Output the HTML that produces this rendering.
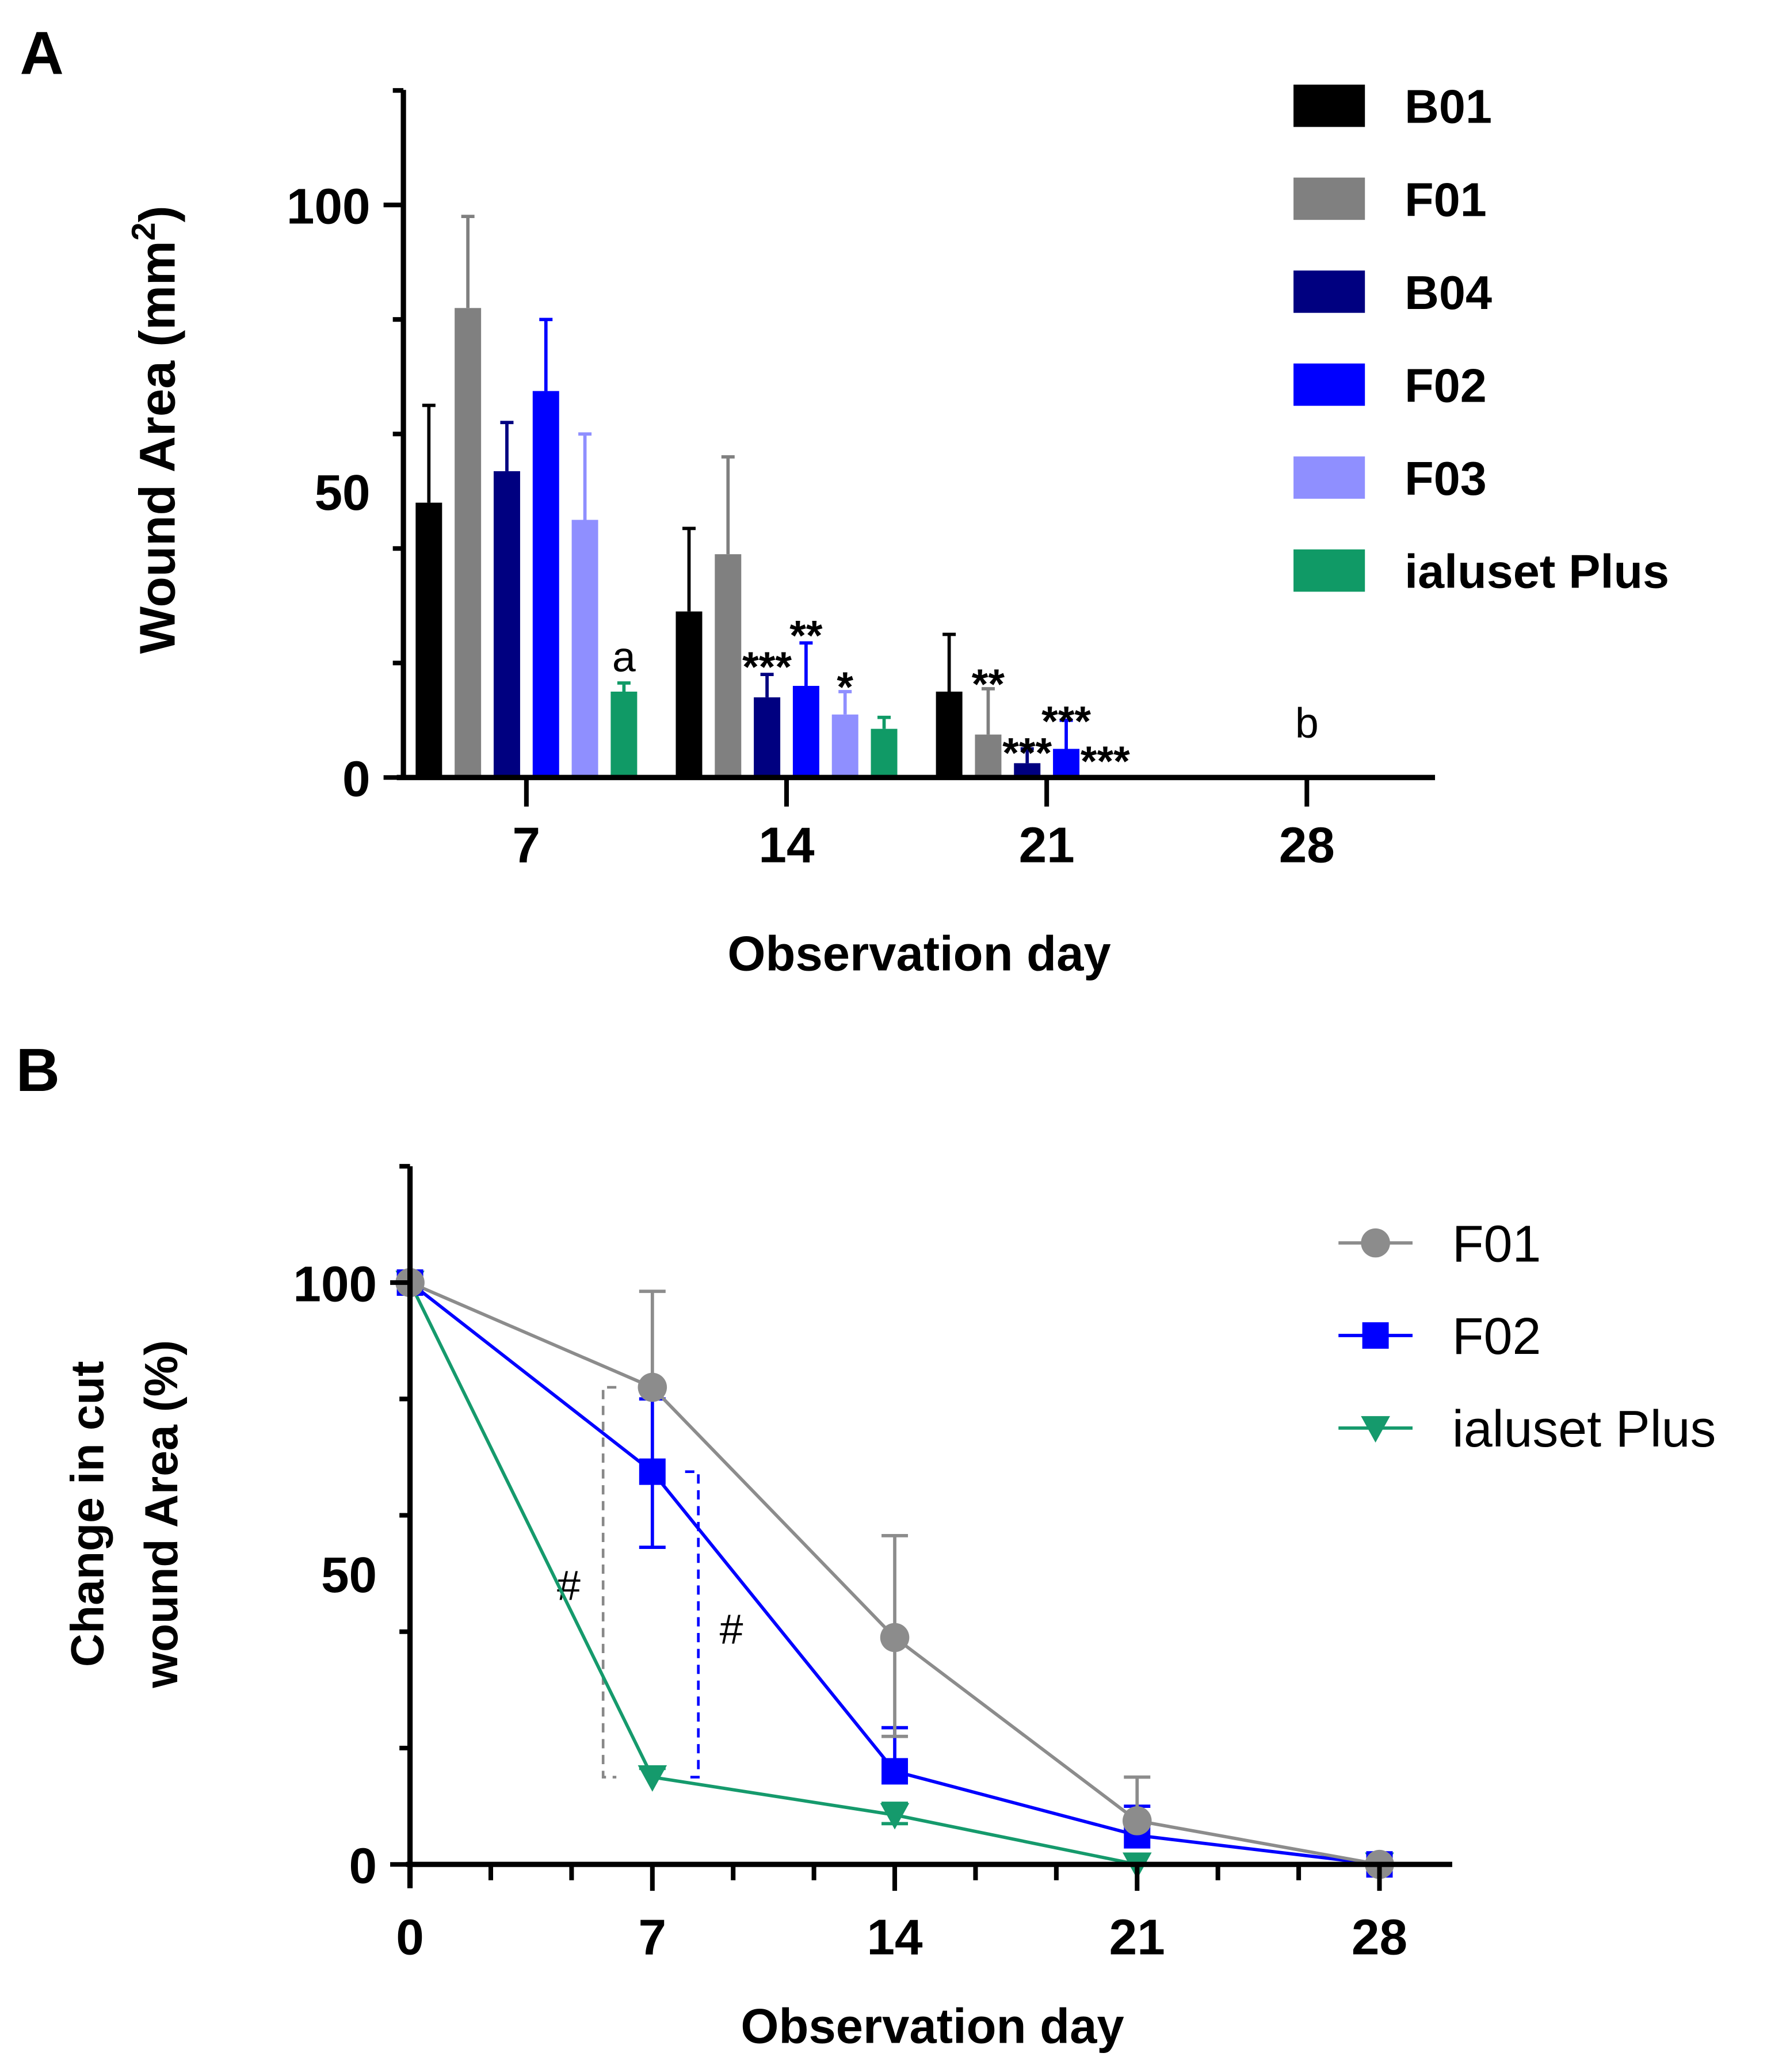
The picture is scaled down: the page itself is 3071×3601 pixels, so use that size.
<!DOCTYPE html>
<html><head><meta charset="utf-8"><style>
html,body{margin:0;padding:0;background:#fff;}
svg{display:block;}
text{font-family:"Liberation Sans",sans-serif;}
</style></head><body>
<svg id="fig" width="3071" height="3601" viewBox="0 0 1336 1567" preserveAspectRatio="none" xmlns="http://www.w3.org/2000/svg">
<text x="15" y="56" font-size="46" font-weight="bold">A</text>
<text x="12" y="825" font-size="46" font-weight="bold">B</text>
<g id="ga"></g>
<g id="gb"></g>
</svg>
<script>
// ---------- Panel A data ----------
const aDays = [7, 14, 21, 28];
const aGroups = ["B01", "F01", "B04", "F02", "F03", "ialuset Plus"];
const aColors = ["#000000", "#808080", "#000080", "#0000ff", "#8f8fff", "#109a66"];
const aB01 = [48, 29, 15, 0];
const aF01 = [82, 39, 7.5, 0];
const aB04 = [53.5, 14, 2.5, 0];
const aF02 = [67.5, 16, 5, 0];
const aF03 = [45, 11, 0, 0];
const aIal = [15, 8.5, 0, 0];
const aB01Err = [65, 43.5, 25, 0];
const aF01Err = [98, 56, 15.5, 0];
const aB04Err = [62, 18, 5, 0];
const aF02Err = [80, 23.5, 10, 0];
const aF03Err = [60, 15, 0, 0];
const aIalErr = [16.5, 10.5, 0, 0];
const aYTicks = [0, 50, 100];
const aAnnot = [["a",7,5,18.5,"n"],["***",14,2,20.5,"s"],["**",14,3,26,"s"],["*",14,4,17,"s"],["**",21,1,17.5,"s"],["***",21,2,5.5,"s"],["***",21,3,11,"s"],["***",21,4,4,"s"],["b",28,2.5,7,"n"]];

// ---------- Panel B data ----------
const bDays = [0, 7, 14, 21, 28];
const bXTicks = [0, 7, 14, 21, 28];
const bYTicks = [0, 50, 100];
const bF01 = [100, 82, 39, 7.5, 0];
const bF02 = [100, 67.5, 16, 5, 0];
const bIal = [100, 15, 8.5, 0, 0];
const bF01Hi = [100, 98.5, 56.5, 15, 0];
const bF01Lo = [100, 82, 22, 7.5, 0];
const bF02Hi = [100, 80, 23.5, 10, 0];
const bF02Lo = [100, 54.5, 16, 5, 0];
const bIalHi = [100, 16.5, 10.5, 0, 0];
const bIalLo = [100, 15, 7, 0, 0];

const NS = "http://www.w3.org/2000/svg";
function mk(parent, tag, attrs, txt) {
  const e = document.createElementNS(NS, tag);
  for (const k in attrs) e.setAttribute(k, attrs[k]);
  if (txt !== undefined) e.textContent = txt;
  parent.appendChild(e);
  return e;
}

// ===== Panel A =====
(function(){
  const g = document.getElementById("ga");
  const y0 = 588, yPer = 4.33;
  const ya = v => y0 - v * yPer;
  const xa = d => 398 + (d - 7) * (196.7 / 7);
  const stride = 29.5, bw = 20;
  const vals = [aB01, aF01, aB04, aF02, aF03, aIal];
  const errs = [aB01Err, aF01Err, aB04Err, aF02Err, aF03Err, aIalErr];
  for (let s = 0; s < aGroups.length; s++) {
    for (let i = 0; i < aDays.length; i++) {
      const cx = xa(aDays[i]) + (s - 2.5) * stride;
      const v = vals[s][i], e = errs[s][i];
      if (v <= 0) continue;
      const r = mk(g, "rect", {x: cx - bw/2, y: ya(v), width: bw, height: ya(0) - ya(v), fill: aColors[s]});
      
      
      if (e > v) {
        const l = mk(g, "path", {d: `M${cx} ${ya(v)}V${ya(e)}M${cx-5} ${ya(e)}H${cx+5}`, stroke: aColors[s], "stroke-width": 2.5, fill: "none"});
        
        
      }
    }
  }
  const ax = mk(g, "path", {d: `M305 68V590M300 ${ya(0)}H1085`, stroke: "#000", "stroke-width": 4, fill: "none"});
  
  
  let tk = "";
  for (let v = 0; v <= 120; v += 20) tk += `M305 ${ya(v)}H${(v % 50 === 0) ? 290 : 297}`;
  for (const d of aDays) tk += `M${xa(d)} ${ya(0)}V${ya(0) + 22}`;
  mk(g, "path", {d: tk, stroke: "#000", "stroke-width": 3.5, fill: "none"});
  for (const v of aYTicks) {
    const t = mk(g, "text", {x: 280, y: ya(v) + 14, "font-size": 38, "font-weight": "bold", "text-anchor": "end"}, String(v));
    
    
  }
  for (const d of aDays) {
    const t = mk(g, "text", {x: xa(d), y: 652, "font-size": 38, "font-weight": "bold", "text-anchor": "middle"}, String(d));
    
    
  }
  const xt = mk(g, "text", {x: 695, y: 734, "font-size": 37, "font-weight": "bold", "text-anchor": "middle"}, "Observation day");
  
  
  const yt = mk(g, "text", {transform: "translate(132 325) rotate(-90)", "font-size": 38, "font-weight": "bold", "text-anchor": "middle"});
  
  
  mk(yt, "tspan", {}, "Wound Area (mm");
  mk(yt, "tspan", {"font-size": 25, dy: -15}, "2");
  mk(yt, "tspan", {dy: 15}, ")");
  for (const a of aAnnot) {
    const cx = xa(a[1]) + (a[2] - 2.5) * stride;
    const t = mk(g, "text", {x: cx, y: ya(a[3]) + (a[4] === "s" ? 16 : 0), "font-size": 32, "font-weight": a[4] === "s" ? "bold" : "normal", "text-anchor": "middle"}, a[0]);
    
    
  }
  for (let s = 0; s < aGroups.length; s++) {
    const yy = 80 + s * 70.3;
    const r = mk(g, "rect", {x: 978, y: yy - 16, width: 54, height: 32, fill: aColors[s]});
    
    
    const t = mk(g, "text", {x: 1062, y: yy + 13, "font-size": 36, "font-weight": "bold"}, aGroups[s]);
    
    
  }
})();

// ===== Panel B =====
(function(){
  const g = document.getElementById("gb");
  const y0 = 1410, yPer = 4.4;
  const yb = v => y0 - v * yPer;
  const xb = d => 310 + d * (733 / 28);
  const br1 = mk(g, "path", {d: `M466 ${yb(82)}H456V${yb(15)}H466`, stroke: "#888", "stroke-width": 2, "stroke-dasharray": "7 5", fill: "none"});
  
  
  const br2 = mk(g, "path", {d: `M518 ${yb(67.5)}H528V${yb(15)}H518`, stroke: "#0000ff", "stroke-width": 2, "stroke-dasharray": "7 5", fill: "none"});
  
  
  const h1 = mk(g, "text", {x: 430, y: 1210, "font-size": 32, "text-anchor": "middle"}, "#");
  
  
  const h2 = mk(g, "text", {x: 553, y: 1243, "font-size": 32, "text-anchor": "middle"}, "#");
  
  

  const series = [
    {name: "F01", v: bF01, hi: bF01Hi, lo: bF01Lo, c: "#8c8c8c", m: "circle"},
    {name: "F02", v: bF02, hi: bF02Hi, lo: bF02Lo, c: "#0000ff", m: "square"},
    {name: "ialuset Plus", v: bIal, hi: bIalHi, lo: bIalLo, c: "#159a6c", m: "tri"}
  ];
  function marker(c, x, y, type) {
    if (type === "circle") return mk(g, "circle", {cx: x, cy: y, r: 11, fill: c});
    if (type === "square") return mk(g, "rect", {x: x - 10, y: y - 10, width: 20, height: 20, fill: c});
    return mk(g, "path", {d: `M${x-11} ${y-9}H${x+11}L${x} ${y+11}Z`, fill: c});
  }
  for (let k = series.length - 1; k >= 0; k--) {
    const s = series[k];
    let d = "", eb = "";
    for (let i = 0; i < bDays.length; i++) {
      const x = xb(bDays[i]);
      d += (i ? "L" : "M") + x + " " + yb(s.v[i]);
      if (s.hi[i] > s.v[i]) eb += `M${x} ${yb(s.v[i])}V${yb(s.hi[i])}M${x-10} ${yb(s.hi[i])}H${x+10}`;
      if (s.lo[i] < s.v[i]) eb += `M${x} ${yb(s.v[i])}V${yb(s.lo[i])}M${x-10} ${yb(s.lo[i])}H${x+10}`;
    }
    const ln = mk(g, "path", {d: d, stroke: s.c, "stroke-width": 2.5, fill: "none"});
    
    
    if (eb) {
      const e = mk(g, "path", {d: eb, stroke: s.c, "stroke-width": 2.5, fill: "none"});
      
      
    }
  }
  for (let k = series.length - 1; k >= 0; k--) {
    const s = series[k];
    for (let i = 0; i < bDays.length; i++) {
      const p = marker(s.c, xb(bDays[i]), yb(s.v[i]), s.m);
      
      
    }
  }
  const ax = mk(g, "path", {d: `M${xb(0)} 882V1428M${xb(0)-3} ${yb(0)}H1098`, stroke: "#000", "stroke-width": 4, fill: "none"});
  
  
  let tk = "";
  for (let v = 0; v <= 120; v += 20) tk += `M${xb(0)} ${yb(v)}H${(v % 50 === 0) ? 295 : 302}`;
  for (let j = 1; j <= 12; j++) { const x = xb(j * 7 / 3); tk += `M${x} ${yb(0)}V${yb(0) + (j % 3 === 0 ? 20 : 12)}`; }
  mk(g, "path", {d: tk, stroke: "#000", "stroke-width": 3.5, fill: "none"});
  for (const v of bYTicks) {
    const t = mk(g, "text", {x: 285, y: yb(v) + 14, "font-size": 38, "font-weight": "bold", "text-anchor": "end"}, String(v));
    
    
  }
  for (const d of bXTicks) {
    const t = mk(g, "text", {x: xb(d), y: 1478, "font-size": 38, "font-weight": "bold", "text-anchor": "middle"}, String(d));
    
    
  }
  const xt = mk(g, "text", {x: 705, y: 1545, "font-size": 37, "font-weight": "bold", "text-anchor": "middle"}, "Observation day");
  
  
  const yt1 = mk(g, "text", {transform: "translate(78 1145) rotate(-90)", "font-size": 35, "font-weight": "bold", "text-anchor": "middle"}, "Change in cut");
  
  
  const yt2 = mk(g, "text", {transform: "translate(134 1145) rotate(-90)", "font-size": 35, "font-weight": "bold", "text-anchor": "middle"}, "wound Area (%)");
  
  
  for (let k = 0; k < series.length; k++) {
    const s = series[k], yy = 940 + k * 70;
    const l = mk(g, "path", {d: `M1012 ${yy}H1068`, stroke: s.c, "stroke-width": 2.5});
    
    
    const m = marker(s.c, 1040, yy, s.m);
    
    
    const t = mk(g, "text", {x: 1098, y: yy + 14, "font-size": 39}, s.name);
    
    
  }
})();
</script>
</body></html>
